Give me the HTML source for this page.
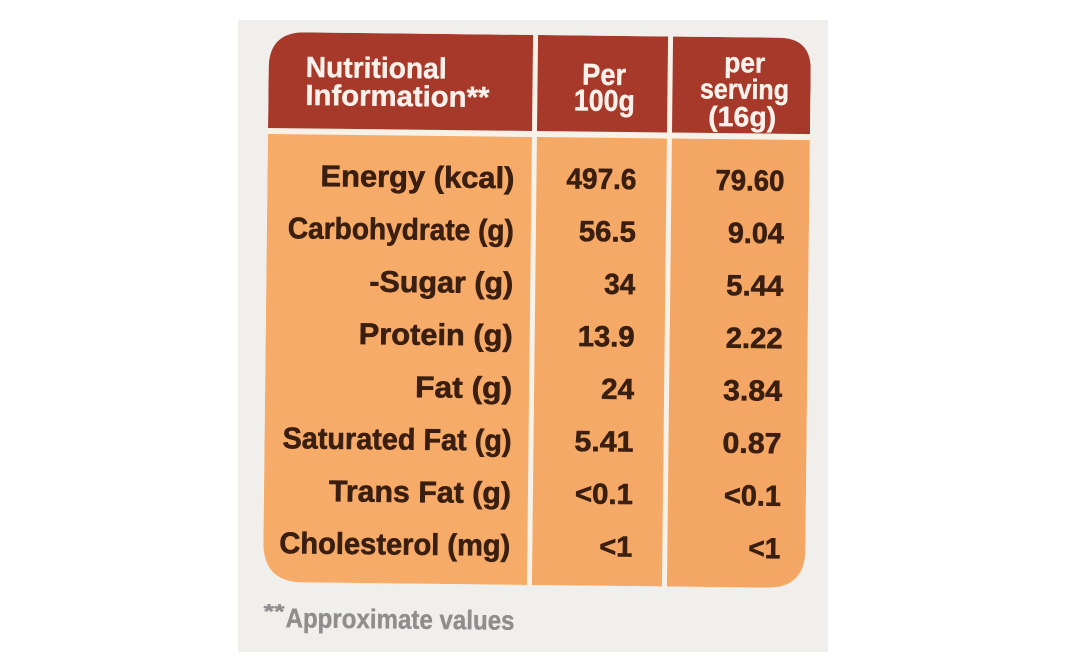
<!DOCTYPE html>
<html>
<head>
<meta charset="utf-8">
<style>
  html, body { margin: 0; padding: 0; background: #ffffff; }
  svg { display: block; }
  text { font-family: "Liberation Sans", Arial, sans-serif; font-weight: bold; }
</style>
</head>
<body>
<svg width="1068" height="671" viewBox="0 0 1068 671" xmlns="http://www.w3.org/2000/svg">
  <rect x="0" y="0" width="1068" height="671" fill="#ffffff"/>
  <!-- photo background -->
  <rect x="238" y="20" width="590" height="632" fill="#f0efeb"/>

  <defs>
    <clipPath id="tbl">
      <path d="M266,71 Q266,35 302,35 L776,35 Q808,35 808,67 L808,547 Q808,585 770,585 L306,585 Q266,585 266,545 Z"/>
    </clipPath>
  </defs>

  <g transform="rotate(0.64 535 310)">
    <g clip-path="url(#tbl)">
      <rect x="260" y="30" width="560" height="560" fill="#f8f1e8"/>
      <!-- header cells -->
      <rect x="262" y="30" width="268" height="101" fill="#a6392a"/>
      <rect x="535" y="30" width="130" height="101" fill="#a6392a"/>
      <rect x="670" y="30" width="145" height="101" fill="#a6392a"/>
      <!-- body cells -->
      <rect x="262" y="137" width="268" height="455" fill="#f6ab68"/>
      <rect x="535" y="137" width="130" height="455" fill="#f5a966"/>
      <rect x="670" y="137" width="145" height="455" fill="#f4a764"/>
    </g>

    <!-- header text -->
    <g fill="#fbf1ea" stroke="#fbf1ea" stroke-width="0.4">
      <text x="303" y="79.5" font-size="29" textLength="141" lengthAdjust="spacingAndGlyphs">Nutritional</text>
      <text x="303" y="107.5" font-size="29" textLength="184" lengthAdjust="spacingAndGlyphs">Information**</text>
      <text x="601.5" y="84" font-size="30" text-anchor="middle" textLength="44" lengthAdjust="spacingAndGlyphs">Per</text>
      <text x="602" y="110" font-size="30" text-anchor="middle" textLength="61" lengthAdjust="spacingAndGlyphs">100g</text>
      <text x="742" y="70" font-size="28" text-anchor="middle" textLength="41" lengthAdjust="spacingAndGlyphs">per</text>
      <text x="742" y="96.5" font-size="28" text-anchor="middle" textLength="89" lengthAdjust="spacingAndGlyphs">serving</text>
      <text x="740" y="124" font-size="28" text-anchor="middle" textLength="68" lengthAdjust="spacingAndGlyphs">(16g)</text>
    </g>

    <!-- labels -->
    <g fill="#3a1e10" stroke="#3a1e10" stroke-width="0.6" font-size="30" text-anchor="end">
      <text x="513" y="188.5" textLength="194" lengthAdjust="spacingAndGlyphs">Energy (kcal)</text>
      <text x="513" y="241" textLength="226" lengthAdjust="spacingAndGlyphs">Carbohydrate (g)</text>
      <text x="513" y="293.5" textLength="144" lengthAdjust="spacingAndGlyphs">-Sugar (g)</text>
      <text x="513" y="346" textLength="154" lengthAdjust="spacingAndGlyphs">Protein (g)</text>
      <text x="513" y="398.5" textLength="97" lengthAdjust="spacingAndGlyphs">Fat (g)</text>
      <text x="513" y="451" textLength="229" lengthAdjust="spacingAndGlyphs">Saturated Fat (g)</text>
      <text x="513" y="503.5" textLength="182" lengthAdjust="spacingAndGlyphs">Trans Fat (g)</text>
      <text x="513" y="556" textLength="231" lengthAdjust="spacingAndGlyphs">Cholesterol (mg)</text>
    </g>

    <!-- per 100g -->
    <g fill="#3a1e10" stroke="#3a1e10" stroke-width="0.6" font-size="29" text-anchor="end">
      <text x="635" y="188" textLength="70" lengthAdjust="spacingAndGlyphs">497.6</text>
      <text x="635" y="240.5" textLength="57" lengthAdjust="spacingAndGlyphs">56.5</text>
      <text x="635" y="293" textLength="31" lengthAdjust="spacingAndGlyphs">34</text>
      <text x="635" y="345.5" textLength="57" lengthAdjust="spacingAndGlyphs">13.9</text>
      <text x="635" y="398" textLength="33" lengthAdjust="spacingAndGlyphs">24</text>
      <text x="635" y="450.5" textLength="59" lengthAdjust="spacingAndGlyphs">5.41</text>
      <text x="635" y="503" textLength="58" lengthAdjust="spacingAndGlyphs">&lt;0.1</text>
      <text x="635" y="555.5" textLength="33" lengthAdjust="spacingAndGlyphs">&lt;1</text>
    </g>

    <!-- per serving -->
    <g fill="#3a1e10" stroke="#3a1e10" stroke-width="0.6" font-size="29" text-anchor="end">
      <text x="783" y="188" textLength="69" lengthAdjust="spacingAndGlyphs">79.60</text>
      <text x="783" y="240.5" textLength="56" lengthAdjust="spacingAndGlyphs">9.04</text>
      <text x="783" y="293" textLength="57" lengthAdjust="spacingAndGlyphs">5.44</text>
      <text x="783" y="345.5" textLength="57" lengthAdjust="spacingAndGlyphs">2.22</text>
      <text x="783" y="398" textLength="59" lengthAdjust="spacingAndGlyphs">3.84</text>
      <text x="783" y="450.5" textLength="59" lengthAdjust="spacingAndGlyphs">0.87</text>
      <text x="783" y="503" textLength="57" lengthAdjust="spacingAndGlyphs">&lt;0.1</text>
      <text x="783" y="555.5" textLength="32" lengthAdjust="spacingAndGlyphs">&lt;1</text>
    </g>

    <!-- footnote -->
    <g fill="#8e8e8e" stroke="#8e8e8e" stroke-width="0.4">
      <text x="267" y="621" font-size="20" textLength="21" lengthAdjust="spacingAndGlyphs">**</text>
      <text x="289" y="630" font-size="27" textLength="229" lengthAdjust="spacingAndGlyphs">Approximate values</text>
    </g>
  </g>
</svg>
</body>
</html>
